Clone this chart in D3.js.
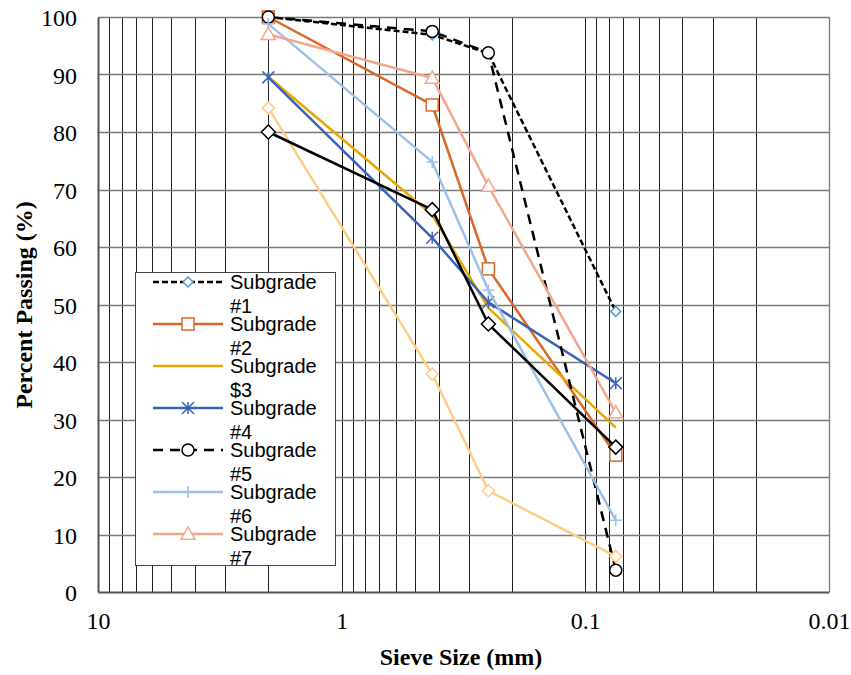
<!DOCTYPE html>
<html><head><meta charset="utf-8">
<script src="https://cdn.jsdelivr.net/npm/d3@7"></script>
<style>body{margin:0;background:#fff;}svg{display:block;}</style>
</head><body>
<svg id="c" width="851" height="675"></svg>
<script>
const sieveSizes = [2.0, 0.425, 0.25, 0.075];
const s1 = [100, 96.9, 93.7, 48.8];
const s2 = [100, 84.7, 56.2, 23.8];
const s3 = [89.6, 65.6, 49.4, 28.6];
const s4 = [89.5, 61.6, 50.4, 36.3];
const s5 = [100, 97.5, 93.8, 3.8];
const s6 = [98.8, 74.8, 52.5, 12.5];
const s7 = [97.0, 89.4, 70.6, 31.2];
const s8 = [84.2, 37.9, 17.6, 6.2];
const s9 = [80.0, 66.5, 46.6, 25.2];
const seriesNames = ["Subgrade #1","Subgrade #2","Subgrade $3","Subgrade #4","Subgrade #5","Subgrade #6","Subgrade #7","Subgrade #8","Subgrade #9"];
const xTicks = [10, 1, 0.1, 0.01];
const xTickLabels = ["10","1","0.1","0.01"];
const yTicks = [0,10,20,30,40,50,60,70,80,90,100];

const styles = [
  {color:"#000", width:2.5, dash:"6,3", marker:"diamond", mColor:"#5B9BD5", mSize:10, legend:true},
  {color:"#D9682B", width:2.5, dash:null, marker:"square", mColor:"#D9682B", mSize:12, legend:true},
  {color:"#E6A800", width:2.5, dash:null, marker:null, legend:true},
  {color:"#3A63B6", width:2.5, dash:null, marker:"asterisk", mColor:"#3A63B6", mSize:12, legend:true},
  {color:"#000", width:2.5, dash:"10,7", marker:"circle", mColor:"#000", mSize:12, legend:true},
  {color:"#9EC0E6", width:2.5, dash:null, marker:"plus", mColor:"#9EC0E6", mSize:12, legend:true},
  {color:"#F2A68A", width:2.5, dash:null, marker:"triangle", mColor:"#F2A68A", mSize:14, legend:true},
  {color:"#FFCD82", width:2.5, dash:null, marker:"diamond", mColor:"#FFCD82", mSize:12, legend:false},
  {color:"#000", width:2.5, dash:null, marker:"diamond", mColor:"#000", mSize:14, legend:false}
];
const allValues = [s1,s2,s3,s4,s5,s6,s7,s8,s9];

const svg = d3.select("#c");
const L=98, R=829, T=17, B=592;
const x = d3.scaleLog().domain([10,0.01]).range([L,R]);
const y = d3.scaleLinear().domain([0,100]).range([B,T]);
const serif = "'Liberation Serif','Times New Roman',serif";

// vertical minor gridlines
const vgrid = [];
[10,1,0.1].forEach(dec=>{ for(let k=1;k<=9;k++){ vgrid.push(dec/10*k);} });
const g = svg.append("g");
g.selectAll(".vg").data(vgrid.filter(v=>v<10 && v>0.01)).join("line")
  .attr("x1",d=>Math.round(x(d))+0.5).attr("x2",d=>Math.round(x(d))+0.5)
  .attr("y1",T).attr("y2",B).attr("stroke","#222").attr("stroke-width",1);
g.selectAll(".hg").data(yTicks.filter(v=>v>0)).join("line")
  .attr("x1",L).attr("x2",R).attr("y1",d=>Math.round(y(d))+0.5).attr("y2",d=>Math.round(y(d))+0.5)
  .attr("stroke","#7a7a7a").attr("stroke-width",1.3);
g.append("line").attr("x1",R+0.5).attr("x2",R+0.5).attr("y1",T).attr("y2",B).attr("stroke","#7a7a7a").attr("stroke-width",1.3);

// axes
const xAxis = d3.axisBottom(x).tickValues(xTicks).tickFormat((d,i)=>xTickLabels[i]).tickSize(0).tickPadding(20);
const xa = svg.append("g").attr("transform",`translate(0,${B})`).call(xAxis);
xa.select(".domain").attr("stroke","#555").attr("stroke-width",2);
xa.selectAll("text").attr("font-family",serif).attr("font-size",24).attr("fill","#000");
const yAxis = d3.axisLeft(y).tickValues(yTicks).tickSize(0).tickPadding(21);
const ya = svg.append("g").attr("transform",`translate(${L},0)`).call(yAxis);
ya.select(".domain").attr("stroke","#555").attr("stroke-width",2);
ya.selectAll("text").attr("font-family",serif).attr("font-size",24).attr("fill","#000").attr("dy","0.36em");

svg.append("text").attr("x",461).attr("y",665).attr("text-anchor","middle")
  .attr("font-family",serif).attr("font-weight","bold").attr("font-size",24)
  .text("Sieve Size (mm)");
svg.append("text").attr("transform","translate(32,305) rotate(-90)").attr("text-anchor","middle")
  .attr("font-family",serif).attr("font-weight","bold").attr("font-size",24)
  .text("Percent Passing (%)");

function drawMarker(sel, st, cx, cy){
  const s = st.mSize, h = s/2;
  if(!st.marker) return;
  if(st.marker==="diamond"){
    sel.append("path").attr("d",`M${cx},${cy-h}L${cx+h},${cy}L${cx},${cy+h}L${cx-h},${cy}Z`)
      .attr("fill","#fff").attr("stroke",st.mColor).attr("stroke-width",1.5);
  } else if(st.marker==="square"){
    sel.append("rect").attr("x",cx-h).attr("y",cy-h).attr("width",s).attr("height",s)
      .attr("fill","#fff").attr("stroke",st.mColor).attr("stroke-width",1.5);
  } else if(st.marker==="circle"){
    sel.append("circle").attr("cx",cx).attr("cy",cy).attr("r",h)
      .attr("fill","#fff").attr("stroke",st.mColor).attr("stroke-width",1.5);
  } else if(st.marker==="triangle"){
    sel.append("path").attr("d",`M${cx},${cy-h}L${cx+h},${cy+h*0.75}L${cx-h},${cy+h*0.75}Z`)
      .attr("fill","#fff").attr("stroke",st.mColor).attr("stroke-width",1.5);
  } else if(st.marker==="asterisk"){
    sel.append("path").attr("d",`M${cx-h},${cy-h}L${cx+h},${cy+h}M${cx-h},${cy+h}L${cx+h},${cy-h}M${cx},${cy-h}L${cx},${cy+h}`)
      .attr("stroke",st.mColor).attr("stroke-width",1.5).attr("fill","none");
  } else if(st.marker==="plus"){
    sel.append("path").attr("d",`M${cx-h},${cy}L${cx+h},${cy}M${cx},${cy-h}L${cx},${cy+h}`)
      .attr("stroke",st.mColor).attr("stroke-width",1.5).attr("fill","none");
  }
}

const line = d3.line().x(d=>x(d[0])).y(d=>y(d[1]));
const plot = svg.append("g");
allValues.forEach((vals,i)=>{
  const st = styles[i];
  const pts = sieveSizes.map((s,j)=>[s,vals[j]]);
  const sg = plot.append("g");
  sg.append("path").attr("d",line(pts)).attr("fill","none").attr("stroke",st.color)
    .attr("stroke-width",st.width).attr("stroke-dasharray",st.dash).attr("stroke-linejoin","round");
  pts.forEach(p=>drawMarker(sg, st, x(p[0]), y(p[1])));
});

// legend
const lg = svg.append("g");
lg.append("rect").attr("x",135.5).attr("y",272.5).attr("width",200).attr("height",293)
  .attr("fill","#fff").attr("stroke","#444").attr("stroke-width",1);
const legendItems = seriesNames.map((n,i)=>({n,i})).filter(d=>styles[d.i].legend);
legendItems.forEach((d,k)=>{
  const st = styles[d.i];
  const ly = 282 + k*42;
  const it = lg.append("g");
  it.append("line").attr("x1",153).attr("x2",223).attr("y1",ly).attr("y2",ly)
    .attr("stroke",st.color).attr("stroke-width",st.width).attr("stroke-dasharray",st.dash);
  drawMarker(it, st, 188, ly);
  const parts = d.n.split(" ");
  const t = it.append("text").attr("font-family","'Liberation Sans',Arial,sans-serif").attr("font-size",20).attr("fill","#000");
  t.append("tspan").attr("x",230).attr("y",ly+7).text(parts[0]);
  t.append("tspan").attr("x",230).attr("y",ly+31).text(parts[1]);
});
</script>
</body></html>
